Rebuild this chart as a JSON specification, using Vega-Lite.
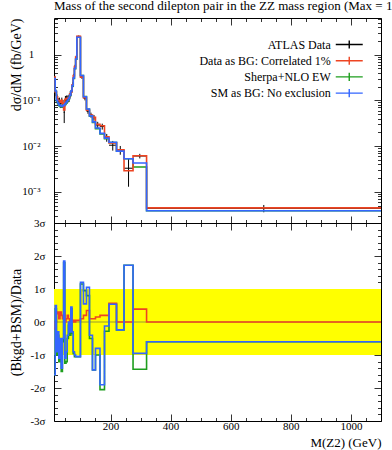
{
  "$schema": "https://vega.github.io/schema/vega-lite/v6.json",
  "padding": {"left": 8, "top": -1, "right": 0, "bottom": 0},
  "bounds": "flush",
  "spacing": 0,
  "config": {
    "font": "Liberation Serif",
    "view": {"stroke": "black", "strokeWidth": 1},
    "axis": {
      "grid": false, "domain": false, "tickColor": "black", "tickWidth": 0.8,
      "labelFont": "Liberation Serif", "labelFontSize": 11, "labelColor": "black",
      "titleFont": "Liberation Serif", "titleFontSize": 14, "titleFontWeight": "normal", "titleColor": "black",
      "labelFlush": false, "labelOverlap": false, "labelBound": false
    }
  },
  "datasets": {
    "bins": [
      {"lo": 12, "hi": 16, "mid": 14, "d": 0.33, "dlo": 0.29, "dhi": 0.37, "red": 0.325, "green": 0.29, "blue": 0.30, "sred": -0.2, "sgreen": -1.6, "sblue": -1.6},
      {"lo": 16, "hi": 20, "mid": 18, "d": 0.15, "dlo": 0.125, "dhi": 0.175, "red": 0.152, "green": 0.155, "blue": 0.16, "sred": 0.0, "sgreen": 0.4, "sblue": 0.5},
      {"lo": 20, "hi": 24, "mid": 22, "d": 0.115, "dlo": 0.095, "dhi": 0.135, "red": 0.12, "green": 0.097, "blue": 0.10, "sred": 0.25, "sgreen": -1.0, "sblue": -0.9},
      {"lo": 24, "hi": 28, "mid": 26, "d": 0.094, "dlo": 0.076, "dhi": 0.112, "red": 0.1, "green": 0.085, "blue": 0.088, "sred": 0.3, "sgreen": -0.4, "sblue": -0.3},
      {"lo": 28, "hi": 32, "mid": 30, "d": 0.097, "dlo": 0.079, "dhi": 0.115, "red": 0.099, "green": 0.077, "blue": 0.080, "sred": 0.1, "sgreen": -1.2, "sblue": -1.1},
      {"lo": 32, "hi": 36, "mid": 34, "d": 0.085, "dlo": 0.068, "dhi": 0.102, "red": 0.09, "green": 0.073, "blue": 0.076, "sred": 0.3, "sgreen": -0.6, "sblue": -0.5},
      {"lo": 36, "hi": 40, "mid": 38, "d": 0.098, "dlo": 0.081, "dhi": 0.115, "red": 0.101, "green": 0.071, "blue": 0.074, "sred": 0.2, "sgreen": -1.5, "sblue": -1.4},
      {"lo": 40, "hi": 44, "mid": 42, "d": 0.085, "dlo": 0.068, "dhi": 0.102, "red": 0.087, "green": 0.073, "blue": 0.076, "sred": 0.1, "sgreen": -0.6, "sblue": -0.5},
      {"lo": 44, "hi": 48, "mid": 46, "d": 0.055, "dlo": 0.032, "dhi": 0.078, "red": 0.062, "green": 0.077, "blue": 0.080, "sred": 0.3, "sgreen": 1.8, "sblue": 1.85},
      {"lo": 48, "hi": 52, "mid": 50, "d": 0.105, "dlo": 0.085, "dhi": 0.125, "red": 0.105, "green": 0.082, "blue": 0.085, "sred": 0.0, "sgreen": -1.25, "sblue": -1.1},
      {"lo": 52, "hi": 56, "mid": 54, "d": 0.108, "dlo": 0.088, "dhi": 0.128, "red": 0.11, "green": 0.088, "blue": 0.092, "sred": 0.1, "sgreen": -1.2, "sblue": -0.9},
      {"lo": 56, "hi": 60, "mid": 58, "d": 0.108, "dlo": 0.088, "dhi": 0.128, "red": 0.112, "green": 0.097, "blue": 0.100, "sred": 0.2, "sgreen": -0.5, "sblue": -0.4},
      {"lo": 60, "hi": 64, "mid": 62, "d": 0.112, "dlo": 0.092, "dhi": 0.132, "red": 0.114, "green": 0.109, "blue": 0.112, "sred": 0.1, "sgreen": -0.1, "sblue": 0.0},
      {"lo": 64, "hi": 68, "mid": 66, "d": 0.137, "dlo": 0.115, "dhi": 0.159, "red": 0.137, "green": 0.127, "blue": 0.130, "sred": 0.0, "sgreen": -0.4, "sblue": -0.3},
      {"lo": 68, "hi": 72, "mid": 70, "d": 0.15, "dlo": 0.128, "dhi": 0.172, "red": 0.153, "green": 0.157, "blue": 0.160, "sred": 0.15, "sgreen": 0.4, "sblue": 0.45},
      {"lo": 72, "hi": 76, "mid": 74, "d": 0.22, "dlo": 0.19, "dhi": 0.25, "red": 0.22, "green": 0.205, "blue": 0.21, "sred": 0.0, "sgreen": -0.35, "sblue": -0.3},
      {"lo": 76, "hi": 80, "mid": 78, "d": 0.345, "dlo": 0.31, "dhi": 0.38, "red": 0.347, "green": 0.30, "blue": 0.31, "sred": 0.05, "sgreen": -0.95, "sblue": -0.9},
      {"lo": 80, "hi": 84, "mid": 82, "d": 0.55, "dlo": 0.5, "dhi": 0.6, "red": 0.55, "green": 0.49, "blue": 0.50, "sred": 0.0, "sgreen": -1.05, "sblue": -1.0},
      {"lo": 84, "hi": 88, "mid": 86, "d": 0.88, "dlo": 0.81, "dhi": 0.95, "red": 0.885, "green": 0.79, "blue": 0.80, "sred": 0.05, "sgreen": -1.05, "sblue": -1.05},
      {"lo": 88, "hi": 100, "mid": 94, "d": 2.5, "dlo": 2.4, "dhi": 2.6, "red": 2.51, "green": 2.39, "blue": 2.40, "sred": 0.05, "sgreen": -1.05, "sblue": -1.05},
      {"lo": 100, "hi": 110, "mid": 105, "d": 0.32, "dlo": 0.295, "dhi": 0.345, "red": 0.322, "green": 0.348, "blue": 0.35, "sred": 0.1, "sgreen": 1.15, "sblue": 1.2},
      {"lo": 110, "hi": 120, "mid": 115, "d": 0.112, "dlo": 0.1, "dhi": 0.124, "red": 0.114, "green": 0.121, "blue": 0.12, "sred": 0.2, "sgreen": 0.95, "sblue": 0.55},
      {"lo": 120, "hi": 130, "mid": 125, "d": 0.058, "dlo": 0.051, "dhi": 0.065, "red": 0.061, "green": 0.064, "blue": 0.065, "sred": 0.35, "sgreen": 0.8, "sblue": 1.05},
      {"lo": 130, "hi": 140, "mid": 135, "d": 0.048, "dlo": 0.042, "dhi": 0.054, "red": 0.048, "green": 0.045, "blue": 0.046, "sred": 0.1, "sgreen": -0.5, "sblue": -0.4},
      {"lo": 140, "hi": 150, "mid": 145, "d": 0.042, "dlo": 0.036, "dhi": 0.048, "red": 0.0425, "green": 0.033, "blue": 0.034, "sred": 0.1, "sgreen": -1.45, "sblue": -1.45},
      {"lo": 150, "hi": 165, "mid": 157.5, "d": 0.029, "dlo": 0.024, "dhi": 0.034, "red": 0.03, "green": 0.024, "blue": 0.025, "sred": 0.15, "sgreen": -1.0, "sblue": -0.8},
      {"lo": 165, "hi": 180, "mid": 172.5, "d": 0.027, "dlo": 0.023, "dhi": 0.031, "red": 0.028, "green": 0.0185, "blue": 0.019, "sred": 0.2, "sgreen": -2.05, "sblue": -1.9},
      {"lo": 180, "hi": 195, "mid": 187.5, "d": 0.0155, "dlo": 0.0125, "dhi": 0.0185, "red": 0.016, "green": 0.0145, "blue": 0.015, "sred": 0.2, "sgreen": -0.28, "sblue": -0.12},
      {"lo": 195, "hi": 220, "mid": 207.5, "d": 0.0105, "dlo": 0.008, "dhi": 0.013, "red": 0.0118, "green": 0.012, "blue": 0.0122, "sred": 0.57, "sgreen": 0.54, "sblue": 0.54},
      {"lo": 220, "hi": 245, "mid": 232.5, "d": 0.0083, "dlo": 0.0065, "dhi": 0.0101, "red": 0.0083, "green": 0.0078, "blue": 0.0078, "sred": 0.0, "sgreen": -0.24, "sblue": -0.24},
      {"lo": 245, "hi": 275, "mid": 260, "d": 0.0033, "dlo": 0.0013, "dhi": 0.0053, "red": 0.0029, "green": 0.0053, "blue": 0.0053, "sred": 0.0, "sgreen": 1.72, "sblue": 1.72},
      {"lo": 275, "hi": 320, "mid": 297.5, "d": 0.0061, "dlo": 0.0054, "dhi": 0.0068, "red": 0.0062, "green": 0.0035, "blue": 0.0043, "sred": 0.39, "sgreen": -1.43, "sblue": -0.95},
      {"lo": 320, "hi": 1100, "mid": 710, "d": 0.00044, "dlo": 0.00036, "dhi": 0.00052, "red": 0.00045, "green": 0.00039, "blue": 0.00039, "sred": 0.0, "sgreen": -0.6, "sblue": -0.6}
    ]
  },
  "resolve": {"scale": {"x": "independent", "y": "independent", "color": "independent"}},
  "vconcat": [
    {
      "width": 327,
      "height": 205,
      "title": {"text": "Mass of the second dilepton pair in the ZZ mass region (Max = 1000 GeV)", "anchor": "start", "frame": "group", "offset": 0, "fontSize": 13, "fontWeight": "normal", "font": "Liberation Serif", "color": "black"},
      "data": {"name": "bins"},
      "layer": [
        {
          "mark": {"type": "rule", "color": "black", "strokeWidth": 1},
          "encoding": {
            "x": {"field": "lo", "type": "quantitative", "scale": {"domain": [12, 1100], "nice": false, "zero": false},
                  "axis": {"orient": "bottom", "labels": false, "title": null,
                           "values": [50,100,150,200,250,300,350,400,450,500,550,600,650,700,750,800,850,900,950,1000,1050,1100],
                           "tickSize": {"condition": {"test": "datum.value % 200 === 0", "value": -7}, "value": -3.5}}},
            "x2": {"field": "hi"},
            "y": {"field": "d", "type": "quantitative", "scale": {"type": "log", "domain": [0.00021, 6.3], "nice": false},
                  "axis": {"orient": "left", "title": "dσ/dM (fb/GeV)", "titleAnchor": "end", "titlePadding": 3, "minExtent": 28, "maxExtent": 28,
                           "values": [0.0003,0.0004,0.0005,0.0006,0.0007,0.0008,0.0009,0.001,0.002,0.003,0.004,0.005,0.006,0.007,0.008,0.009,0.01,0.02,0.03,0.04,0.05,0.06,0.07,0.08,0.09,0.1,0.2,0.3,0.4,0.5,0.6,0.7,0.8,0.9,1,2,3,4,5,6],
                           "labelExpr": "datum.value == 1 ? '1' : datum.value == 0.1 ? '10⁻¹' : datum.value == 0.01 ? '10⁻²' : datum.value == 0.001 ? '10⁻³' : ''",
                           "labelAlign": "center", "labelPadding": 30,
                           "tickSize": {"condition": {"test": "indexof([0.001,0.01,0.1,1], datum.value) >= 0", "value": -7}, "value": -3.5}}}
          }
        },
        {
          "mark": {"type": "rule", "color": "black", "strokeWidth": 1},
          "encoding": {
            "x": {"field": "mid", "type": "quantitative", "scale": {"domain": [12, 1100], "nice": false, "zero": false},
                  "axis": {"orient": "top", "labels": false, "title": null,
                           "values": [50,100,150,200,250,300,350,400,450,500,550,600,650,700,750,800,850,900,950,1000,1050,1100],
                           "tickSize": {"condition": {"test": "datum.value % 200 === 0", "value": -7}, "value": -3.5}}},
            "y": {"field": "dlo", "type": "quantitative", "scale": {"type": "log", "domain": [0.00021, 6.3], "nice": false},
                  "axis": {"orient": "right", "labels": false, "title": null,
                           "values": [0.0003,0.0004,0.0005,0.0006,0.0007,0.0008,0.0009,0.001,0.002,0.003,0.004,0.005,0.006,0.007,0.008,0.009,0.01,0.02,0.03,0.04,0.05,0.06,0.07,0.08,0.09,0.1,0.2,0.3,0.4,0.5,0.6,0.7,0.8,0.9,1,2,3,4,5,6],
                           "tickSize": {"condition": {"test": "indexof([0.001,0.01,0.1,1], datum.value) >= 0", "value": -7}, "value": -3.5}}},
            "y2": {"field": "dhi"}
          }
        },
        {
          "transform": [
            {"fold": ["green", "red", "blue"], "as": ["series", "val"]},
            {"fold": ["lo", "hi"], "as": ["edge", "x"]}
          ],
          "mark": {"type": "line", "strokeWidth": 1.6},
          "encoding": {
            "x": {"field": "x", "type": "quantitative", "scale": {"domain": [12, 1100], "nice": false, "zero": false}, "axis": null},
            "y": {"field": "val", "type": "quantitative", "scale": {"type": "log", "domain": [0.00021, 6.3], "nice": false}, "axis": null},
            "color": {"field": "series", "type": "nominal",
                      "scale": {"domain": ["data", "red", "green", "blue"], "range": ["#000000", "#EE4422", "#1E9E1E", "#3366FF"]},
                      "legend": {"orient": "none", "legendX": 281, "legendY": 19, "title": null, "padding": 0,
                                 "labelExpr": "{'data': 'ATLAS Data', 'red': 'Data as BG: Correlated 1%', 'green': 'Sherpa+NLO EW', 'blue': 'SM as BG: No exclusion'}[datum.label]",
                                 "labelAlign": "right", "labelOffset": -26, "labelFont": "Liberation Serif", "labelFontSize": 12, "labelColor": "black",
                                 "symbolType": "M-2,0L2,0M0,-0.6L0,0.6", "symbolSize": 182, "symbolStrokeWidth": 1.4, "symbolOffset": 6.75,
                                 "rowPadding": 1.2}},
            "order": [{"field": "x", "type": "quantitative"}, {"field": "edge", "type": "ordinal"}]
          }
        }
      ]
    },
    {
      "width": 327,
      "height": 198,
      "data": {"name": "bins"},
      "layer": [
        {
          "data": {"values": [{}]},
          "mark": {"type": "rect", "color": "#FFFF00"},
          "encoding": {
            "x": {"datum": 12, "type": "quantitative", "scale": {"domain": [12, 1100], "nice": false, "zero": false},
                  "axis": {"orient": "top", "labels": false, "title": null,
                           "values": [50,100,150,200,250,300,350,400,450,500,550,600,650,700,750,800,850,900,950,1000,1050,1100],
                           "tickSize": {"condition": {"test": "datum.value % 200 === 0", "value": -7}, "value": -3.5}}},
            "x2": {"datum": 1100},
            "y": {"datum": -1, "type": "quantitative", "scale": {"domain": [-3, 3], "nice": false, "zero": false},
                  "axis": {"orient": "right", "labels": false, "title": null,
                           "values": [-3,-2.8,-2.6,-2.4,-2.2,-2,-1.8,-1.6,-1.4,-1.2,-1,-0.8,-0.6,-0.4,-0.2,0,0.2,0.4,0.6,0.8,1,1.2,1.4,1.6,1.8,2,2.2,2.4,2.6,2.8,3],
                           "tickSize": {"condition": {"test": "abs(datum.value - round(datum.value)) < 0.01", "value": -7}, "value": -3.5}}},
            "y2": {"datum": 1}
          }
        },
        {
          "data": {"values": [{}]},
          "mark": {"type": "rule", "color": "#555555", "strokeWidth": 0.6},
          "encoding": {
            "y": {"datum": 0, "type": "quantitative", "scale": {"domain": [-3, 3], "nice": false, "zero": false}, "axis": null}
          }
        },
        {
          "transform": [
            {"fold": ["sgreen", "sred", "sblue"], "as": ["series", "sig"]},
            {"fold": ["lo", "hi"], "as": ["edge", "x"]}
          ],
          "mark": {"type": "line", "strokeWidth": 1.6},
          "encoding": {
            "x": {"field": "x", "type": "quantitative", "scale": {"domain": [12, 1100], "nice": false, "zero": false},
                  "axis": {"orient": "bottom", "title": "M(Z2) (GeV)", "titleAnchor": "end", "titlePadding": 2, "titleFontSize": 13, "format": "d",
                           "values": [50,100,150,200,250,300,350,400,450,500,550,600,650,700,750,800,850,900,950,1000,1050,1100],
                           "labelExpr": "datum.value % 200 === 0 ? datum.label : ''", "labelPadding": 6,
                           "tickSize": {"condition": {"test": "datum.value % 200 === 0", "value": -7}, "value": -3.5}}},
            "y": {"field": "sig", "type": "quantitative", "scale": {"domain": [-3, 3], "nice": false, "zero": false},
                  "axis": {"orient": "left", "title": "(Bkgd+BSM)/Data", "titlePadding": 3, "minExtent": 28, "maxExtent": 28,
                           "values": [-3,-2.8,-2.6,-2.4,-2.2,-2,-1.8,-1.6,-1.4,-1.2,-1,-0.8,-0.6,-0.4,-0.2,0,0.2,0.4,0.6,0.8,1,1.2,1.4,1.6,1.8,2,2.2,2.4,2.6,2.8,3],
                           "labelExpr": "abs(datum.value - round(datum.value)) < 0.01 ? round(datum.value) + 'σ' : ''",
                           "labelPadding": 16,
                           "tickSize": {"condition": {"test": "abs(datum.value - round(datum.value)) < 0.01", "value": -7}, "value": -3.5}}},
            "color": {"field": "series", "type": "nominal",
                      "scale": {"domain": ["sgreen", "sred", "sblue"], "range": ["#1E9E1E", "#EE4422", "#3366FF"]},
                      "legend": null},
            "order": [{"field": "x", "type": "quantitative"}, {"field": "edge", "type": "ordinal"}]
          }
        }
      ]
    }
  ]
}
